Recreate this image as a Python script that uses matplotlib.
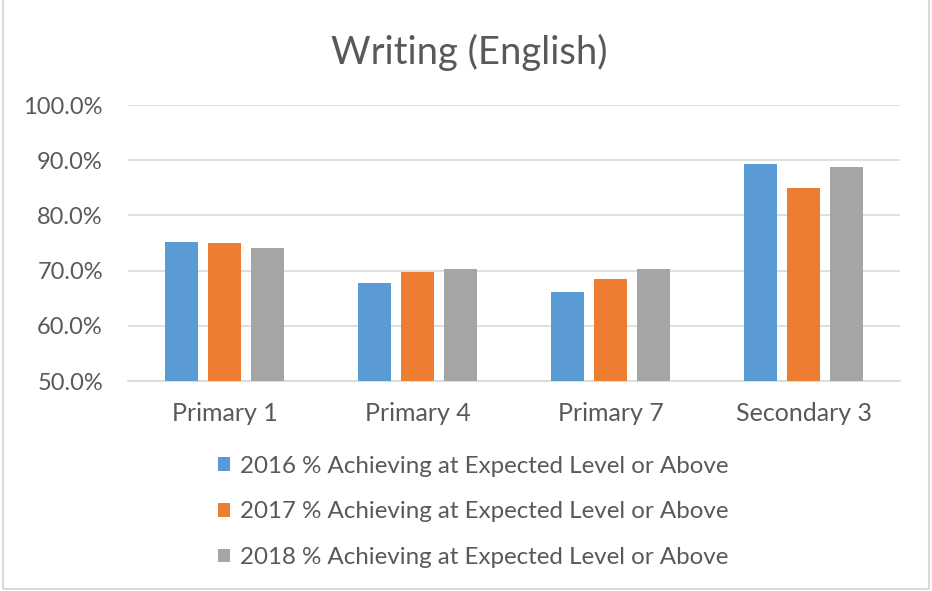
import matplotlib
matplotlib.use("Agg")
import matplotlib.pyplot as plt
from matplotlib.patches import Patch, Rectangle
import numpy as np

categories = ["Primary 1", "Primary 4", "Primary 7", "Secondary 3"]
series_labels = ["2016 % Achieving at Expected Level or Above",
                 "2017 % Achieving at Expected Level or Above",
                 "2018 % Achieving at Expected Level or Above"]
values_2016 = [75.2, 67.8, 66.1, 89.4]
values_2017 = [75.0, 69.8, 68.5, 85.0]
values_2018 = [74.1, 70.3, 70.3, 88.7]
yticks = [50, 60, 70, 80, 90, 100]
title = "Writing (English)"

colors = ["#5B9BD5", "#ED7D31", "#A5A5A5"]
text_color = "#595959"
grid_color = "#D9D9D9"

plt.rcParams['font.family'] = ['Lato', 'DejaVu Sans']

W, H = 932, 591
fig = plt.figure(figsize=(W / 100, H / 100), dpi=100)
ax = fig.add_axes([128 / W, 1 - 381 / H, 772 / W, 276 / H])

x = np.arange(len(categories))
width = 0.171
step = 0.223
series = [values_2016, values_2017, values_2018]
handles = []
for i, (vals, c, lab) in enumerate(zip(series, colors, series_labels)):
    ax.bar(x + (i - 1) * step, vals, width=width, color=c, label=lab, zorder=3)
    handles.append(Patch(facecolor=c, edgecolor='none', label=lab))

ax.set_xlim(-0.5, len(categories) - 0.5)
ax.set_ylim(50, 100)
ax.set_yticks(yticks)
ax.set_yticklabels([f"{v:.1f}%" for v in yticks])
ax.set_xticks(x)
ax.set_xticklabels(categories)
ax.grid(axis='y', color=grid_color, linewidth=1.2, zorder=0)
for s in ['top', 'right', 'left']:
    ax.spines[s].set_visible(False)
ax.spines['bottom'].set_color(grid_color)
ax.spines['bottom'].set_linewidth(1.2)
ax.tick_params(axis='both', length=0, colors=text_color)
ax.tick_params(axis='y', pad=18, labelsize=17)
ax.tick_params(axis='x', pad=15, labelsize=18)

fig.text(469 / W, 1 - 52 / H, title, ha='center', va='center',
         fontsize=27.5, color=text_color)

leg = fig.legend(handles=handles, loc='upper left',
                 bbox_to_anchor=(208 / W, 1 - 446 / H),
                 frameon=False, fontsize=17.4, labelcolor=text_color,
                 handlelength=0.5, handleheight=0.5, handletextpad=0.41,
                 labelspacing=1.02, borderaxespad=0)

fig.patches.append(Rectangle((2.5 / W, 2.5 / H), 926 / W, 600 / H,
                             transform=fig.transFigure, fill=False,
                             edgecolor=grid_color, linewidth=1.5))

fig.savefig("out.png", dpi=100)
